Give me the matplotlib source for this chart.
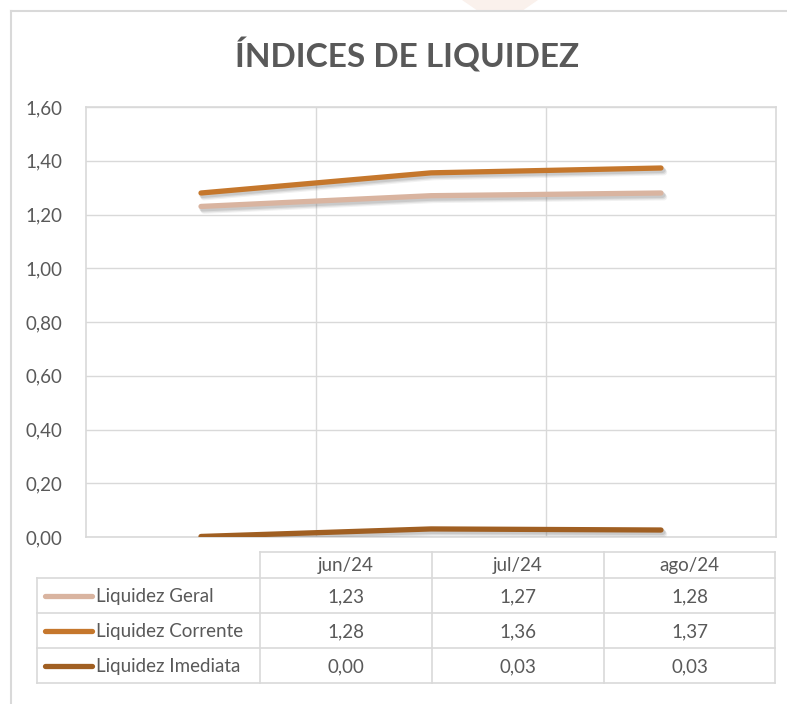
import matplotlib
matplotlib.use('Agg')
import matplotlib.pyplot as plt
import matplotlib.patheffects as pe
from matplotlib.patches import Polygon
import numpy as np

plt.rcParams['font.family'] = ['Lato', 'DejaVu Sans']

# --- dados ---
months = ['jun/24', 'jul/24', 'ago/24']
series_names = ['Liquidez Geral', 'Liquidez Corrente', 'Liquidez Imediata']
geral = [1.23, 1.27, 1.28]
corrente = [1.28, 1.355, 1.373]
imediata = [0.002, 0.03, 0.026]
# valores exibidos na tabela
table_vals = [
    ['1,23', '1,27', '1,28'],
    ['1,28', '1,36', '1,37'],
    ['0,00', '0,03', '0,03'],
]
yticks = [0.0, 0.2, 0.4, 0.6, 0.8, 1.0, 1.2, 1.4, 1.6]

COLORS = ['#D9B4A0', '#C5772C', '#A05F22']
GRID = '#D9D9D9'
TXT = '#595959'
FS = 13.5

W, H = 787, 704
fig = plt.figure(figsize=(W / 100, H / 100), dpi=100)

# camada de fundo em pixels (borda, tabela)
bg = fig.add_axes([0, 0, 1, 1])
bg.set_xlim(0, W)
bg.set_ylim(H, 0)
bg.axis('off')

# marca d'agua leve no topo
bg.add_patch(Polygon([[462, 0], [538, 0], [522, 11], [478, 11]], closed=True,
                     facecolor='#FAF1EC', edgecolor='none'))
# borda do grafico (so topo e esquerda ficam visiveis)
bg.plot([11, W], [11, 11], color=GRID, lw=1.5)
bg.plot([11, 11], [11, H], color=GRID, lw=1.5)

bg.text(407, 55, 'ÍNDICES DE LIQUIDEZ', ha='center', va='center',
        fontsize=24, fontweight='bold', color=TXT)

# --- area do grafico ---
ax = fig.add_axes([86 / W, 1 - 537 / H, (776 - 86) / W, (537 - 107) / H])
x = np.arange(len(months))
shadow = [pe.SimpleLineShadow(offset=(o, -o * 1.4), shadow_color='#777777', alpha=a, linewidth=4.5)
          for o, a in [(2.2, 0.10), (1.6, 0.15), (1.0, 0.2)]]
for vals, c in zip([geral, corrente, imediata], COLORS):
    ax.plot(x, vals, color=c, lw=3.8, solid_capstyle='round', zorder=5,
            path_effects=shadow + [pe.Normal()])

ax.set_xlim(-0.5, len(months) - 0.5)
ax.set_ylim(0, 1.6)
ax.set_yticks(yticks)
ax.set_yticklabels([f'{v:.2f}'.replace('.', ',') for v in yticks])
ax.set_xticks([])
ax.tick_params(axis='y', length=0, pad=17, labelsize=FS, labelcolor=TXT)
ax.grid(axis='y', color=GRID, lw=1)
for xb in np.arange(0.5, len(months) - 0.5, 1):
    ax.axvline(xb, color=GRID, lw=1, zorder=0)
for s in ax.spines.values():
    s.set_color(GRID)
    s.set_linewidth(1.2)
ax.set_axisbelow(True)

# --- tabela de dados ---
cols = [260, 432, 604, 775]
rows = [552, 578, 613, 648, 683]
left = 37
bg.plot([cols[0], cols[-1]], [rows[0], rows[0]], color=GRID, lw=1.2)
for xc in cols:
    bg.plot([xc, xc], [rows[0], rows[-1]], color=GRID, lw=1.2)
for yr in rows[1:]:
    bg.plot([left, cols[-1]], [yr, yr], color=GRID, lw=1.2)
bg.plot([left, left], [rows[1], rows[-1]], color=GRID, lw=1.2)

for j, m in enumerate(months):
    bg.text((cols[j] + cols[j + 1]) / 2, (rows[0] + rows[1]) / 2 + 1, m,
            ha='center', va='center', fontsize=FS, color=TXT)

for i, (name, c) in enumerate(zip(series_names, COLORS)):
    yc = (rows[i + 1] + rows[i + 2]) / 2
    bg.plot([45, 92], [yc, yc], color=c, lw=3.8, solid_capstyle='round')
    bg.text(96, yc + 1, name, ha='left', va='center', fontsize=FS, color=TXT)
    for j in range(len(months)):
        bg.text((cols[j] + cols[j + 1]) / 2, yc + 1, table_vals[i][j],
                ha='center', va='center', fontsize=FS, color=TXT)

fig.savefig('out.png', dpi=100)
